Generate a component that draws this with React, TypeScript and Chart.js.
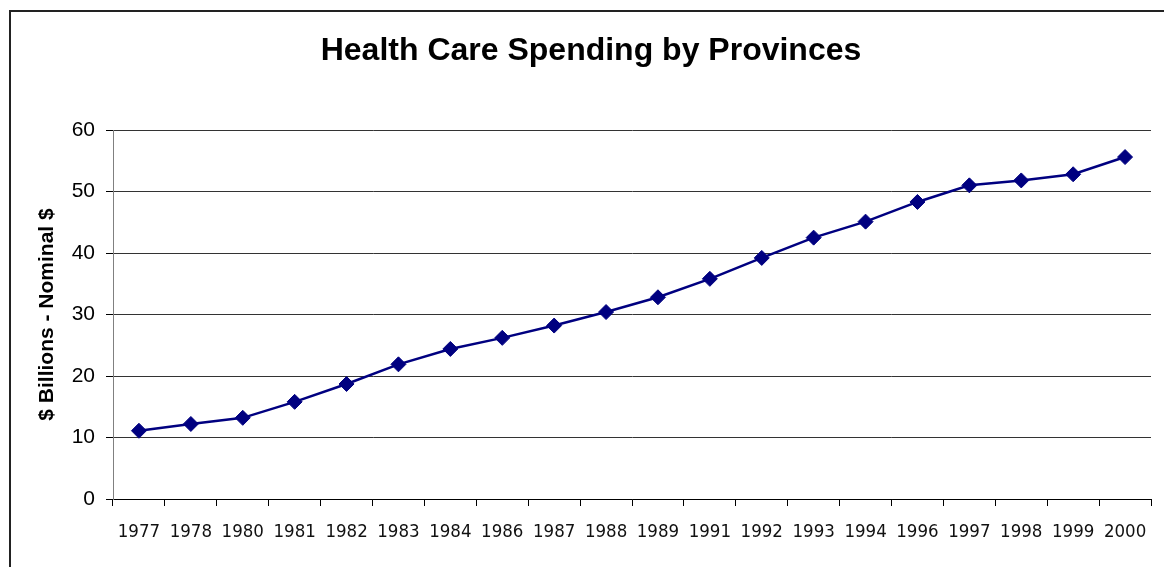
import React, { useEffect, useRef } from "react";
import { Chart, registerables } from "chart.js";

Chart.register(...registerables);

const chartTitle = "Health Care Spending by Provinces";
const yAxisTitle = "$ Billions - Nominal $";
const years = [
  "1977", "1978", "1980", "1981", "1982", "1983", "1984", "1986", "1987", "1988",
  "1989", "1991", "1992", "1993", "1994", "1996", "1997", "1998", "1999", "2000",
];
const spending = [
  11.1, 12.2, 13.2, 15.8, 18.7, 21.9, 24.4, 26.2, 28.2, 30.4,
  32.8, 35.8, 39.2, 42.5, 45.1, 48.3, 51.0, 51.8, 52.8, 55.6,
];
const yTicks = [0, 10, 20, 30, 40, 50, 60];

const titlePlugin = {
  id: "customTitle",
  afterDraw(chart: any) {
    const ctx = chart.ctx;
    ctx.save();
    ctx.font = "bold 32px 'Liberation Sans', Arial, sans-serif";
    ctx.fillStyle = "#000";
    ctx.textAlign = "center";
    ctx.textBaseline = "alphabetic";
    ctx.fillText(chartTitle, 591, 60);
    ctx.restore();
  },
};

export default function App() {
  const canvasRef = useRef<HTMLCanvasElement | null>(null);

  useEffect(() => {
    if (!canvasRef.current) return;
    const chart = new Chart(canvasRef.current, {
      type: "line",
      data: {
        labels: years,
        datasets: [
          {
            data: spending,
            borderColor: "#000080",
            backgroundColor: "#000080",
            borderWidth: 2.5,
            pointStyle: "rectRot",
            pointRadius: 7.5,
            pointBorderWidth: 1,
            pointBackgroundColor: "#000080",
            pointBorderColor: "#000080",
            tension: 0,
            clip: false as any,
          },
        ],
      },
      options: {
        animation: false,
        responsive: false,
        layout: { padding: { top: 130, left: 0, right: 13, bottom: 0 } },
        plugins: {
          legend: { display: false },
          tooltip: { enabled: false },
          title: { display: false },
        },
        scales: {
          x: {
            type: "category",
            offset: true,
            grid: {
              display: true,
              drawOnChartArea: false,
              drawTicks: true,
              tickLength: 7,
              color: "#000",
              offset: true,
            },
            border: { color: "#000", width: 1 },
            ticks: {
              color: "#111",
              padding: 15,
              maxRotation: 0,
              autoSkip: false,
              font: { family: "'Liberation Sans Narrow', 'DejaVu Sans Condensed', sans-serif", size: 18.5 },
            },
            afterFit: (scale: any) => {
              scale.height = 68;
            },
          },
          y: {
            min: 0,
            max: 60,
            afterBuildTicks: (scale: any) => {
              scale.ticks = yTicks.map((v) => ({ value: v }));
            },
            grid: {
              color: "#333",
              tickColor: "#000",
              tickLength: 7,
              lineWidth: 1,
            },
            border: { color: "#808080", width: 1 },
            ticks: {
              color: "#000",
              padding: 11,
              font: { family: "'Liberation Sans', Arial, sans-serif", size: 21 },
            },
            title: {
              display: true,
              text: yAxisTitle,
              color: "#000",
              padding: { top: 35, bottom: 0 },
              font: { family: "'Liberation Sans', Arial, sans-serif", size: 21, weight: "bold" },
            },
            afterFit: (scale: any) => {
              scale.width = 113;
            },
          },
        },
      },
      plugins: [titlePlugin],
    });
    return () => chart.destroy();
  }, []);

  return (
    <div
      style={{
        position: "fixed",
        left: 0,
        top: 0,
        width: 1164,
        height: 567,
        overflow: "hidden",
        background: "#fff",
      }}
    >
      <div
        style={{
          position: "absolute",
          left: 9,
          top: 10,
          width: 2000,
          height: 2000,
          border: "2px solid #222",
        }}
      />
      <canvas
        ref={canvasRef}
        width={1164}
        height={567}
        style={{ position: "absolute", left: 0, top: 0, width: 1164, height: 567 }}
      />
    </div>
  );
}
